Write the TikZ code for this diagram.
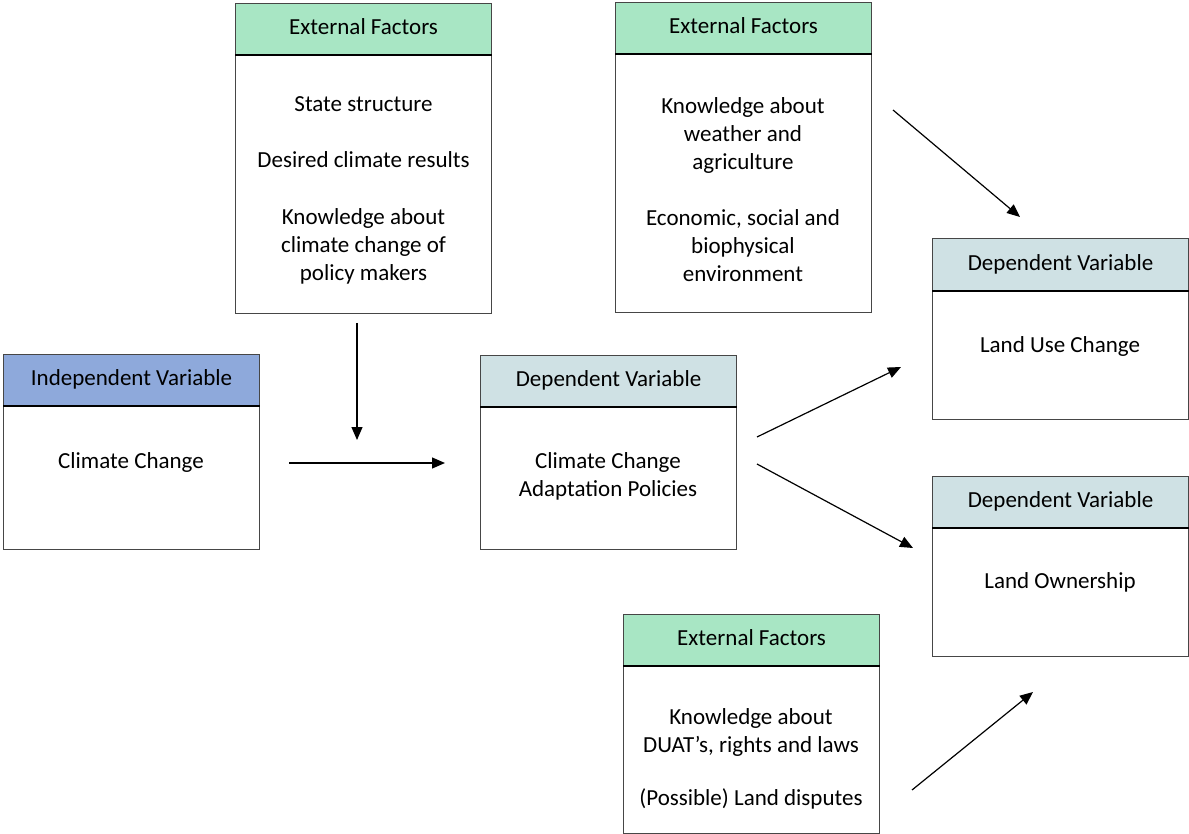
\documentclass[tikz,border=0pt]{standalone}
\usepackage{fontspec}
\setmainfont{Carlito}
\usetikzlibrary{arrows.meta}
\definecolor{efgreen}{RGB}{168,230,196}
\definecolor{ivblue}{RGB}{142,169,219}
\definecolor{dvgray}{RGB}{207,225,228}
\definecolor{boxline}{RGB}{70,70,70}
\tikzset{
  bodybox/.style={draw=boxline, line width=1.1pt, fill=white, anchor=north west, minimum width=256pt, inner sep=0pt},
  headbox/.style={draw=boxline, line width=1.1pt, anchor=north west, minimum width=256pt, minimum height=51pt, inner sep=0pt},
  headtext/.style={inner sep=0pt, text depth=0pt, yshift=2.5pt, font=\fontsize{23}{28}\selectfont},
  sepline/.style={line width=1.8pt, black},
  bodytext/.style={align=center, inner sep=0pt, yshift=-2pt, font=\fontsize{23}{28}\selectfont},
  arr/.style={line width=1.2pt, -{Triangle[length=13pt, width=11pt]}}
}
\begin{document}
\begin{tikzpicture}[x=1pt,y=-1pt]
\useasboundingbox (0,0) rectangle (1189,834);
% Independent variable
\node[bodybox, minimum height=195pt] (iv) at (3,354) {};
\node[headbox, fill=ivblue] (ivh) at (3,354) {};
\node[headtext] (ivl) at (ivh.center) {Independent Variable};
\draw[sepline] (ivh.south west) -- (ivh.south east);
\node[bodytext] (ivt) at (131,460) {Climate Change};
% External factors top-left
\node[bodybox, minimum height=310pt] (ef1) at (235,3) {};
\node[headbox, fill=efgreen] (ef1h) at (235,3) {};
\node[headtext] (ef1l) at (ef1h.center) {External Factors};
\draw[sepline] (ef1h.south west) -- (ef1h.south east);
\node[bodytext] (ef1t) at (363.5,188.5) {State structure\\[28pt]Desired climate results\\[29pt]Knowledge about\\climate change of\\policy makers};
% External factors top-right
\node[bodybox, minimum height=310pt] (ef2) at (615,2) {};
\node[headbox, fill=efgreen] (ef2h) at (615,2) {};
\node[headtext] (ef2l) at (ef2h.center) {External Factors};
\draw[sepline] (ef2h.south west) -- (ef2h.south east);
\node[bodytext] (ef2t) at (743,188) {Knowledge about\\weather and\\agriculture\\[28pt]Economic, social and\\biophysical\\environment};
% Dependent variable centre
\node[bodybox, minimum height=194pt] (dv) at (480,355) {};
\node[headbox, fill=dvgray] (dvh) at (480,355) {};
\node[headtext] (dvl) at (dvh.center) {Dependent Variable};
\draw[sepline] (dvh.south west) -- (dvh.south east);
\node[bodytext] (dvt) at (608,474) {Climate Change\\Adaptation Policies};
% Land use change
\node[bodybox, minimum height=181pt] (luc) at (932,238) {};
\node[headbox, fill=dvgray, minimum height=52pt] (luch) at (932,238) {};
\node[headtext] (lucl) at (luch.center) {Dependent Variable};
\draw[sepline] (luch.south west) -- (luch.south east);
\node[bodytext] (luct) at (1060,344) {Land Use Change};
% Land ownership
\node[bodybox, minimum height=180pt] (lo) at (932,476) {};
\node[headbox, fill=dvgray] (loh) at (932,476) {};
\node[headtext] (lol) at (loh.center) {Dependent Variable};
\draw[sepline] (loh.south west) -- (loh.south east);
\node[bodytext] (lot) at (1060,580) {Land Ownership};
% External factors bottom
\node[bodybox, minimum height=219pt] (ef3) at (623,614) {};
\node[headbox, fill=efgreen] (ef3h) at (623,614) {};
\node[headtext] (ef3l) at (ef3h.center) {External Factors};
\draw[sepline] (ef3h.south west) -- (ef3h.south east);
\node[bodytext] (ef3t) at (751,756.5) {Knowledge about\\DUAT’s, rights and laws\\[25pt](Possible) Land disputes};
% arrow end points
\coordinate (a1s) at (357,323); \coordinate (a1e) at (357,440);
\coordinate (a2s) at (289,463); \coordinate (a2e) at (445,463);
\coordinate (a3s) at (757,437); \coordinate (a3e) at (901,367);
\coordinate (a4s) at (757,464); \coordinate (a4e) at (913,548);
\coordinate (a5s) at (893,110); \coordinate (a5e) at (1020,217);
\coordinate (a6s) at (912,790); \coordinate (a6e) at (1033,692);
\draw[arr] (a1s) -- (a1e);
\draw[arr] (a2s) -- (a2e);
\draw[arr] (a3s) -- (a3e);
\draw[arr] (a4s) -- (a4e);
\draw[arr] (a5s) -- (a5e);
\draw[arr] (a6s) -- (a6e);
\end{tikzpicture}
\end{document}
